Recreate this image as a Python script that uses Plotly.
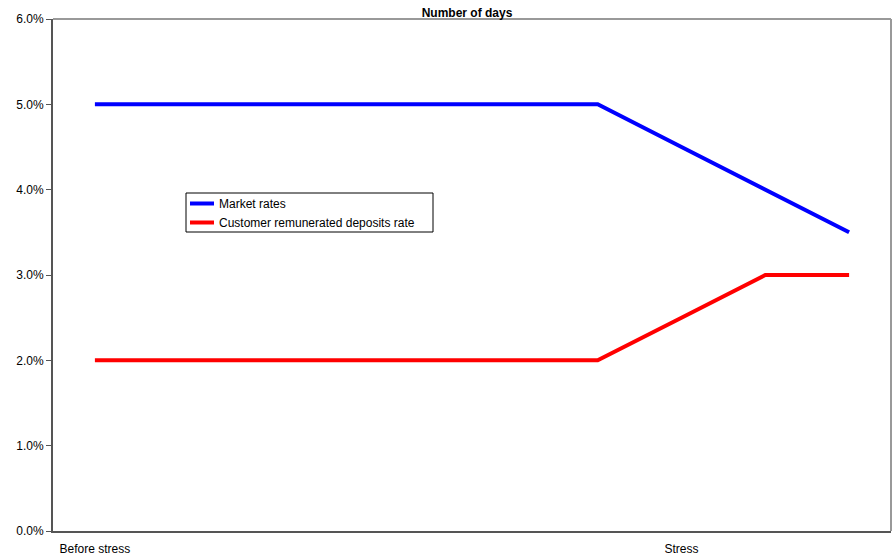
import plotly.graph_objects as go

categories = list(range(10))
tick_positions = [0, 7]
tick_labels = ["Before stress", "Stress"]
series_names = ["Market rates", "Customer remunerated deposits rate"]
series_colors = ["#0000FF", "#FF0000"]
market_rates = [5.0, 5.0, 5.0, 5.0, 5.0, 5.0, 5.0, 4.5, 4.0, 3.5]
deposit_rates = [2.0, 2.0, 2.0, 2.0, 2.0, 2.0, 2.0, 2.5, 3.0, 3.0]

fig = go.Figure()
for name, color, vals in zip(series_names, series_colors, [market_rates, deposit_rates]):
    fig.add_trace(go.Scatter(x=categories, y=[v / 100 for v in vals], mode="lines",
                             name=name, line=dict(color=color, width=4), showlegend=False))

font = "Liberation Sans, Arial, sans-serif"
L, R, T, B = 53, 891, 19, 531


def px_x(p):
    return (p - L) / (R - L)


def px_y(p):
    return (B - p) / (B - T)


shapes = [
    dict(type="line", xref="paper", yref="paper", x0=0, x1=1, y0=1, y1=1,
         line=dict(color="#999999", width=2)),
    dict(type="line", xref="paper", yref="paper", x0=1, x1=1, y0=0, y1=1,
         line=dict(color="#999999", width=2)),
    dict(type="rect", xref="paper", yref="paper", x0=px_x(186), x1=px_x(433),
         y0=px_y(232), y1=px_y(193), line=dict(color="black", width=1), fillcolor="white",
         layer="above"),
]
annotations = []
for i, (name, color) in enumerate(zip(series_names, series_colors)):
    yy = 203.5 + i * 19
    shapes.append(dict(type="line", xref="paper", yref="paper", x0=px_x(190), x1=px_x(214),
                       y0=px_y(yy), y1=px_y(yy), line=dict(color=color, width=4), layer="above"))
    annotations.append(dict(xref="paper", yref="paper", x=px_x(217), y=px_y(yy),
                            xanchor="left", yanchor="middle", showarrow=False, text=name,
                            font=dict(family=font, size=12, color="black")))

fig.update_layout(
    width=893, height=555,
    margin=dict(l=L, r=893 - R, t=T, b=555 - B, autoexpand=False),
    paper_bgcolor="white", plot_bgcolor="white",
    font=dict(family=font, size=12, color="black"),
    title=dict(text="<b>Number of days</b>", x=467/893, xanchor="center",
               y=1 - 13/555, yanchor="middle", yref="container",
               font=dict(family=font, size=12, color="black")),
    showlegend=False,
    xaxis=dict(range=[-0.5, 9.5], tickmode="array", tickvals=tick_positions, ticktext=tick_labels,
               showgrid=False, zeroline=False, showline=True, linecolor="#555555", linewidth=2,
               ticks="", ticklabelstandoff=6, automargin=False,
               tickfont=dict(family=font, size=12, color="black")),
    yaxis=dict(range=[0, 0.06], dtick=0.01, tickformat=".1%", showgrid=False, zeroline=False,
               showline=True, linecolor="#555555", linewidth=2, ticks="outside", ticklen=5,
               tickcolor="#555555", automargin=False,
               tickfont=dict(family=font, size=12, color="black")),
    shapes=shapes,
    annotations=annotations,
)

fig.write_html("out.html")
